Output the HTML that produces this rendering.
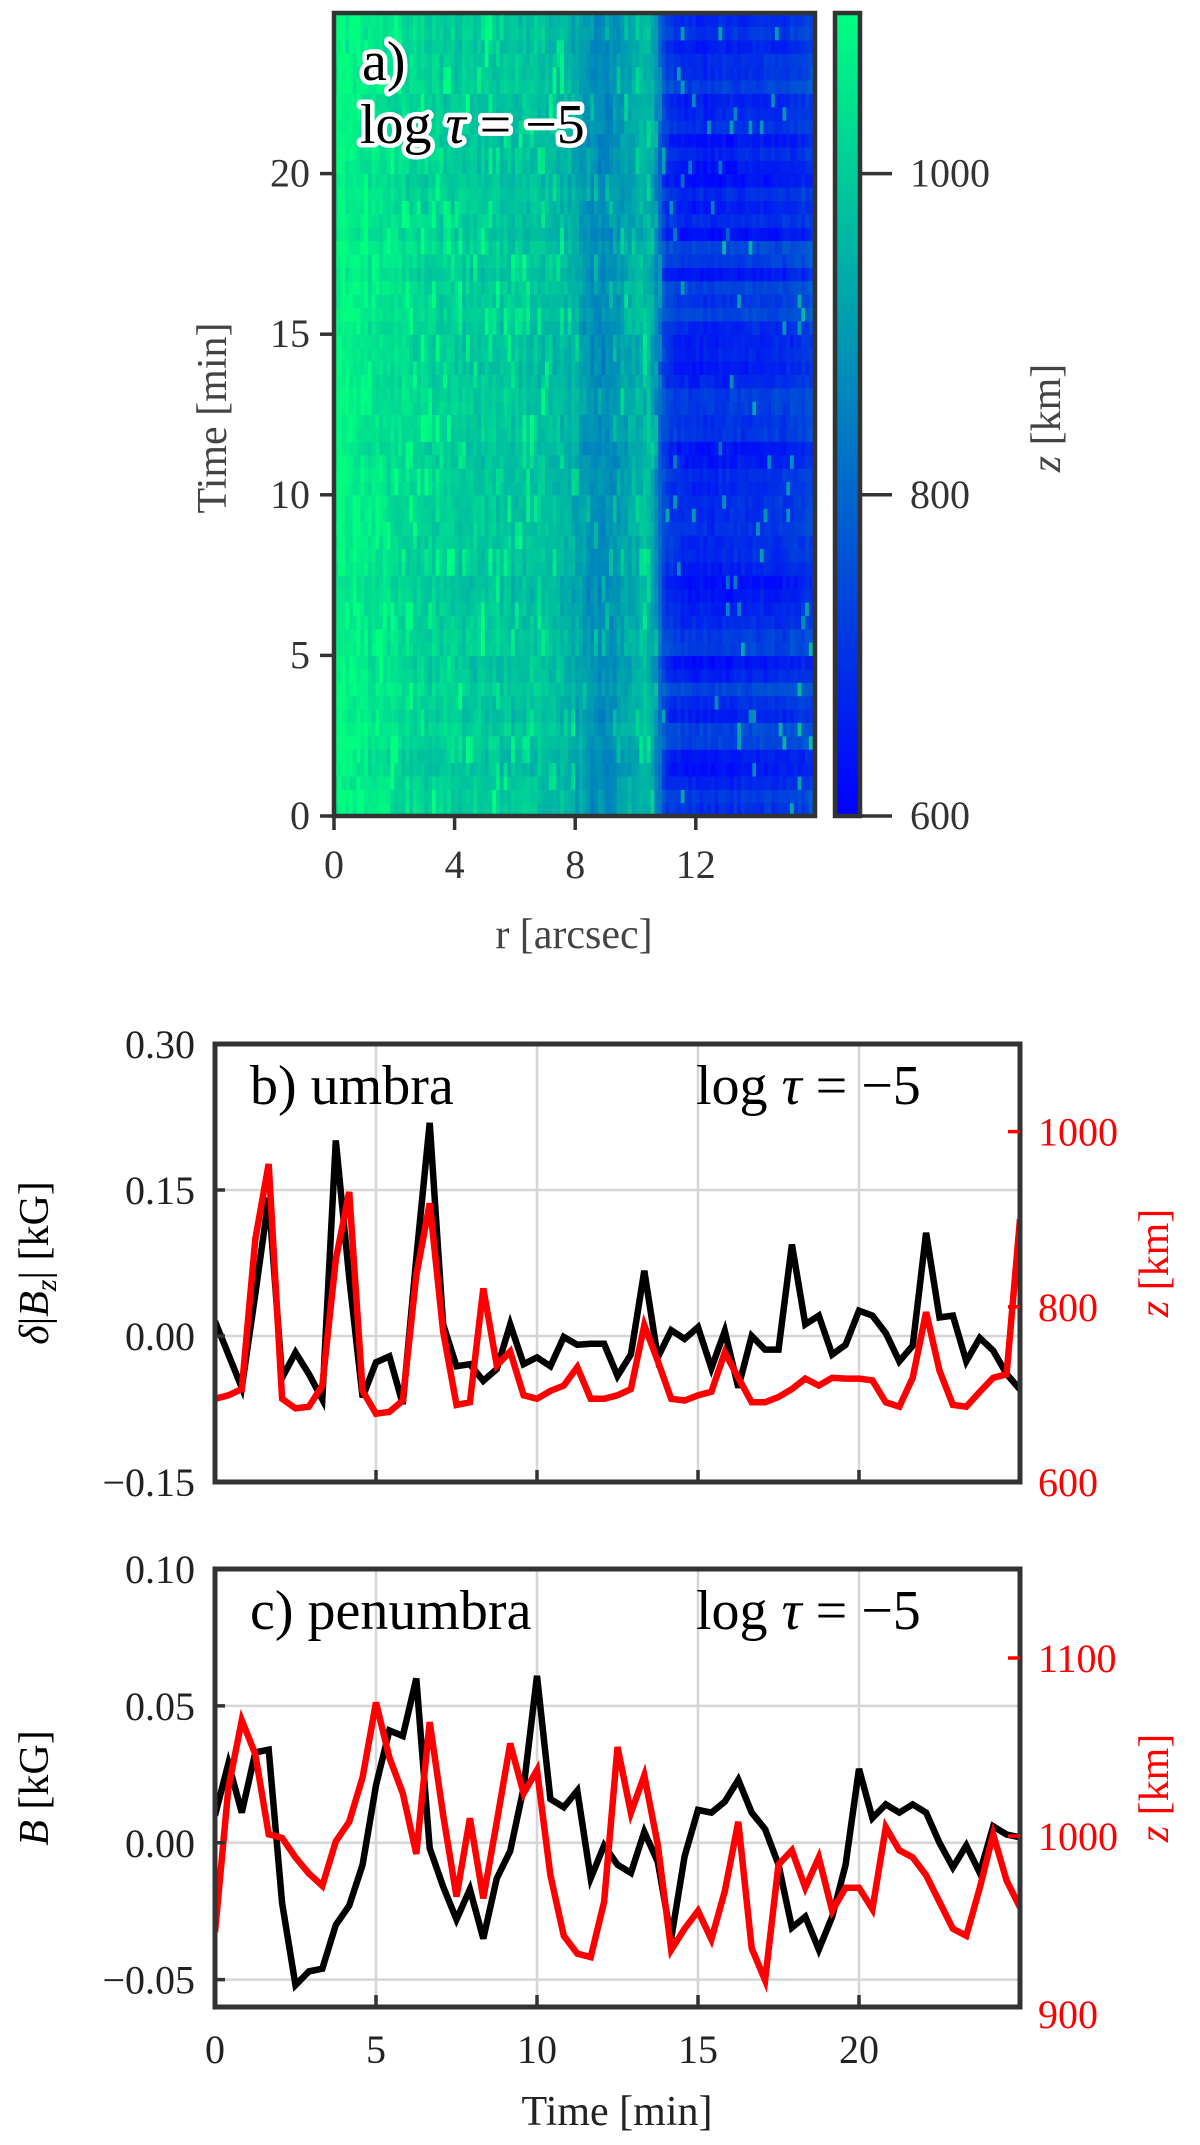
<!DOCTYPE html>
<html><head><meta charset="utf-8"><style>
html,body{margin:0;padding:0;background:#fff}
svg{display:block}
text{font-family:"Liberation Serif",serif}
</style></head><body>
<svg id="fig" width="1200" height="2145" viewBox="0 0 1200 2145" xmlns="http://www.w3.org/2000/svg"></svg>
<script>
// ---------- Panel a data ----------
const rProfileR = [0,0.5,1,1.5,2,2.5,3,3.5,4,4.5,5,5.5,6,6.5,7,7.5,8,8.5,9,9.5,10,10.5,11,11.5,12,12.5,13,13.5,14,14.5,15,15.5,16];
const rProfileZ = [1090,1080,1065,1050,1035,1025,1015,1005,1000,995,995,990,985,985,980,970,940,880,870,910,950,965,720,685,675,675,680,685,690,695,700,715,740];
const timeTicksA = [0,5,10,15,20];
const rTicks = [0,4,8,12];
const cbTicks = [600,800,1000];
// ---------- Panel b data ----------
const tickBLeft = [-0.15,0.00,0.15,0.30];
const tickBRight = [600,800,1000];
const umbraB = [0.015,-0.019,-0.053,0.043,0.142,-0.043,-0.017,-0.039,-0.065,0.201,0.06,-0.063,-0.027,-0.021,-0.07,0.08,0.219,0.012,-0.031,-0.029,-0.046,-0.034,0.012,-0.029,-0.022,-0.031,-0.001,-0.009,-0.008,-0.008,-0.041,-0.019,0.067,-0.022,0.006,-0.003,0.009,-0.033,0.005,-0.053,0.0,-0.014,-0.014,0.094,0.012,0.021,-0.019,-0.009,0.026,0.021,0.003,-0.026,-0.01,0.106,0.019,0.021,-0.026,-0.002,-0.015,-0.039,-0.055];
const umbraZ = [695,699,706,877,963,695,684,686,710,854,931,704,678,680,693,836,918,772,688,691,821,733,749,699,695,704,710,731,695,695,699,706,779,738,695,693,699,703,748,719,691,691,697,706,718,710,719,718,718,716,691,686,719,794,727,688,686,703,719,723,900];
// ---------- Panel c data ----------
const tickCLeft = [-0.05,0.00,0.05,0.10];
const tickCRight = [900,1000,1100];
const penB = [0.01,0.029,0.011,0.033,0.034,-0.022,-0.052,-0.047,-0.046,-0.030,-0.023,-0.008,0.021,0.041,0.039,0.060,-0.002,-0.016,-0.028,-0.017,-0.035,-0.013,-0.003,0.020,0.061,0.016,0.013,0.019,-0.013,-0.001,-0.008,-0.011,0.004,-0.007,-0.035,-0.005,0.012,0.011,0.015,0.023,0.011,0.005,-0.008,-0.031,-0.027,-0.039,-0.027,-0.008,0.027,0.009,0.014,0.011,0.014,0.011,0.000,-0.009,-0.001,-0.011,0.006,0.003,0.002];
const penZ = [946,1027,1065,1046,1001,999,988,979,972,997,1008,1033,1075,1044,1024,990,1064,1012,966,1010,965,1008,1052,1024,1037,978,944,934,932,963,1050,1013,1034,995,936,948,958,942,969,1008,937,919,984,992,971,988,958,971,971,959,1005,992,988,978,963,948,944,971,1001,975,960];
const timeTicksBC = [0,5,10,15,20];
const dt = 25/60;

const NS='http://www.w3.org/2000/svg';
const svg=document.getElementById('fig');
function el(tag,attrs,parent){const e=document.createElementNS(NS,tag);for(const k in attrs)e.setAttribute(k,attrs[k]);(parent||svg).appendChild(e);return e;}
function txt(s,attrs,parent){const e=el('text',attrs,parent);e.textContent=s;return e;}
function lin(d0,d1,p0,p1){return v=>p0+(v-d0)/(d1-d0)*(p1-p0);}

// ===== Panel a =====
const A={l:334,r:815,t:13,b:816};
const ax=lin(0,16,A.l,A.l+16*30.15);
const ay=lin(0,25,A.b,A.b-25*32.12);
const cz=lin(600,1100,816,13);
function winter(v){v=Math.max(0,Math.min(1,(v-600)/500));return 'rgb(0,'+Math.round(255*v)+','+Math.round(255*(1-0.5*v))+')';}
function profile(r){for(let i=0;i<rProfileR.length-1;i++){if(r<=rProfileR[i+1]){const f=(r-rProfileR[i])/(rProfileR[i+1]-rProfileR[i]);return rProfileZ[i]+f*(rProfileZ[i+1]-rProfileZ[i]);}}return rProfileZ[rProfileZ.length-1];}
function hash(a,b){let h=(a*374761393+b*668265263)|0;h=(h^(h>>>13))*1274126177|0;return ((h^(h>>>16))>>>0)/4294967296;}
const defs=el('defs',{});
const gA=el('g',{});


const nRows=60,nCols=128;
const rowOff=[];for(let j=0;j<nRows;j++)rowOff.push((hash(j,7)-0.5)*60);
for(let j=0;j<nRows;j++){
  const y0=ay((j+1)*dt),y1=ay(j*dt);
  for(let i=0;i<nCols;i++){
    const r=i*0.125+0.0625;
    const umb=r>10.9;
    let z=profile(r)+rowOff[j]*(umb?1.8:0.4)+(hash(i,Math.floor(j/3))-0.5)*(umb?40:60)+(hash(i,j)-0.5)*30;
    if(!umb && hash(i*3,Math.floor(j/2)*5)>0.9)z+=75;
    if(umb && hash(i*7,j*11)>0.97)z+=200;
    const c=el('rect',{x:ax(i*0.125).toFixed(1),y:y0.toFixed(1),width:(30.15*0.125+0.6).toFixed(1),height:(y1-y0+0.6).toFixed(1),fill:winter(z)},gA);
    
    
  }
}
el('rect',{x:A.l,y:A.t,width:A.r-A.l,height:A.b-A.t,fill:'none',stroke:'#333','stroke-width':4.5,});
timeTicksA.forEach(v=>{const y=ay(v);el('line',{x1:A.l-14,x2:A.l,y1:y,y2:y,stroke:'#333','stroke-width':3.5});
  txt(String(v),{x:A.l-24,y:y+13,'text-anchor':'end','font-size':40,fill:'#333',});});
rTicks.forEach(v=>{const x=ax(v);el('line',{x1:x,x2:x,y1:A.b,y2:A.b+14,stroke:'#333','stroke-width':3.5});
  txt(String(v),{x:x,y:A.b+62,'text-anchor':'middle','font-size':40,fill:'#333',});});
txt('Time [min]',{x:0,y:0,transform:'translate(226,418) rotate(-90)','text-anchor':'middle','font-size':42,fill:'#444',});
txt('r [arcsec]',{x:574,y:948,'text-anchor':'middle','font-size':42,fill:'#444',});
const lab=el('text',{x:362,y:80,'font-size':56,fill:'#000',stroke:'#fff','stroke-width':9,'paint-order':'stroke','stroke-linejoin':'round',});
lab.textContent='a)';
const lab2=el('text',{x:360,y:143,'font-size':56,fill:'#000',stroke:'#fff','stroke-width':9,'paint-order':'stroke','stroke-linejoin':'round',});
lab2.innerHTML='log <tspan font-style="italic">τ</tspan> = −5';
// colorbar
const lg=el('linearGradient',{id:'cbg',x1:0,y1:1,x2:0,y2:0},defs);
el('stop',{offset:0,'stop-color':winter(600)},lg);el('stop',{offset:1,'stop-color':winter(1100)},lg);
el('rect',{x:835,y:A.t,width:25,height:A.b-A.t,fill:'url(#cbg)',stroke:'#333','stroke-width':4.5,});
cbTicks.forEach(v=>{const y=cz(v);el('line',{x1:860,x2:892,y1:y,y2:y,stroke:'#333','stroke-width':3.5});
  txt(String(v),{x:910,y:y+13,'font-size':40,fill:'#333',});});
const cbl=el('text',{x:0,y:0,transform:'translate(1060,418) rotate(-90)','text-anchor':'middle','font-size':42,fill:'#444',});
cbl.innerHTML='<tspan font-style="italic">z</tspan> [km]';

// ===== line panels =====
function linePanel(P){
  const x=lin(0,25,215,1020);
  const y=lin(P.ymin,P.ymax,P.b,P.t);
  const y2=lin(P.zmin,P.zmax,P.b,P.t);
  const g=el('g',{});
  
  
  timeTicksBC.forEach(v=>{if(v>0)el('line',{x1:x(v),x2:x(v),y1:P.t,y2:P.b,stroke:'#d6d6d6','stroke-width':2.5},g);});
  P.lt.forEach(v=>{el('line',{x1:215,x2:1020,y1:y(v),y2:y(v),stroke:'#d6d6d6','stroke-width':2.5},g);});
  const pts=a=>a.map((v,i)=>x(Math.min(25,i*dt)).toFixed(1)+','+y(v).toFixed(1)).join(' ');
  const pts2=a=>a.map((v,i)=>x(Math.min(25,i*dt)).toFixed(1)+','+y2(v).toFixed(1)).join(' ');
  const clip=el('clipPath',{id:'clip'+P.name},defs);el('rect',{x:215,y:P.t,width:805,height:P.b-P.t},clip);
  const lb=el('polyline',{points:pts(P.bs),fill:'none',stroke:'#000','stroke-width':6.5,'stroke-linejoin':'miter','clip-path':'url(#clip'+P.name+')'},g);
  
  
  const lr=el('polyline',{points:pts2(P.zs),fill:'none',stroke:'#ff0000','stroke-width':6.5,'clip-path':'url(#clip'+P.name+')'},g);
  
  
  el('rect',{x:215,y:P.t,width:805,height:P.b-P.t,fill:'none',stroke:'#333','stroke-width':5},g);
  P.lt.forEach(v=>{const yy=y(v);if(yy>P.t+3&&yy<P.b-3)el('line',{x1:215,x2:225,y1:yy,y2:yy,stroke:'#333','stroke-width':3.5},g);
    txt(v.toFixed(2).replace('-','−'),{x:195,y:yy+14,'text-anchor':'end','font-size':40,fill:'#222',},g);});
  P.rt.forEach(v=>{const yy=y2(v);if(yy>P.t+3&&yy<P.b-3)el('line',{x1:1008,x2:1020,y1:yy,y2:yy,stroke:'#ff0000','stroke-width':3.5},g);
    txt(String(v),{x:1038,y:yy+14,'font-size':40,fill:'#ff0000',},g);});
  timeTicksBC.forEach(v=>{if(v>0)el('line',{x1:x(v),x2:x(v),y1:P.b-12,y2:P.b,stroke:'#333','stroke-width':3.5},g);
    if(P.xlabels)txt(String(v),{x:x(v),y:P.b+56,'text-anchor':'middle','font-size':40,fill:'#222',},g);});
  txt(P.title,{x:250,y:P.t+60,'font-size':56,fill:'#000',},g);
  const t2=el('text',{x:696,y:P.t+60,'font-size':56,fill:'#000',},g);
  t2.innerHTML='log <tspan font-style="italic">τ</tspan> = −5';
  const yl=el('text',{x:0,y:0,transform:'translate(48,'+((P.t+P.b)/2)+') rotate(-90)','text-anchor':'middle','font-size':42,fill:'#000',},g);
  yl.innerHTML=P.ylab;
  const zl=el('text',{x:0,y:0,transform:'translate(1168,'+((P.t+P.b)/2)+') rotate(-90)','text-anchor':'middle','font-size':42,fill:'#ff0000',},g);
  zl.innerHTML='<tspan font-style="italic">z</tspan> [km]';
}
linePanel({name:'panel-b-umbra',t:1044,b:1482,ymin:-0.15,ymax:0.30,zmin:600,zmax:1100,lt:tickBLeft,rt:tickBRight,bs:umbraB,zs:umbraZ,title:'b) umbra',xlabels:false,
  ylab:'<tspan font-style="italic">δ</tspan>|<tspan font-style="italic">B</tspan><tspan font-style="italic" font-size="30" dy="8">z</tspan><tspan dy="-8">| [kG]</tspan>'});
linePanel({name:'panel-c-penumbra',t:1569,b:2007,ymin:-0.06,ymax:0.10,zmin:904,zmax:1150,lt:tickCLeft,rt:tickCRight,bs:penB,zs:penZ,title:'c) penumbra',xlabels:true,
  ylab:'<tspan font-style="italic">B</tspan> [kG]'});
txt('Time [min]',{x:617,y:2125,'text-anchor':'middle','font-size':42,fill:'#222',});
</script>
</body></html>
